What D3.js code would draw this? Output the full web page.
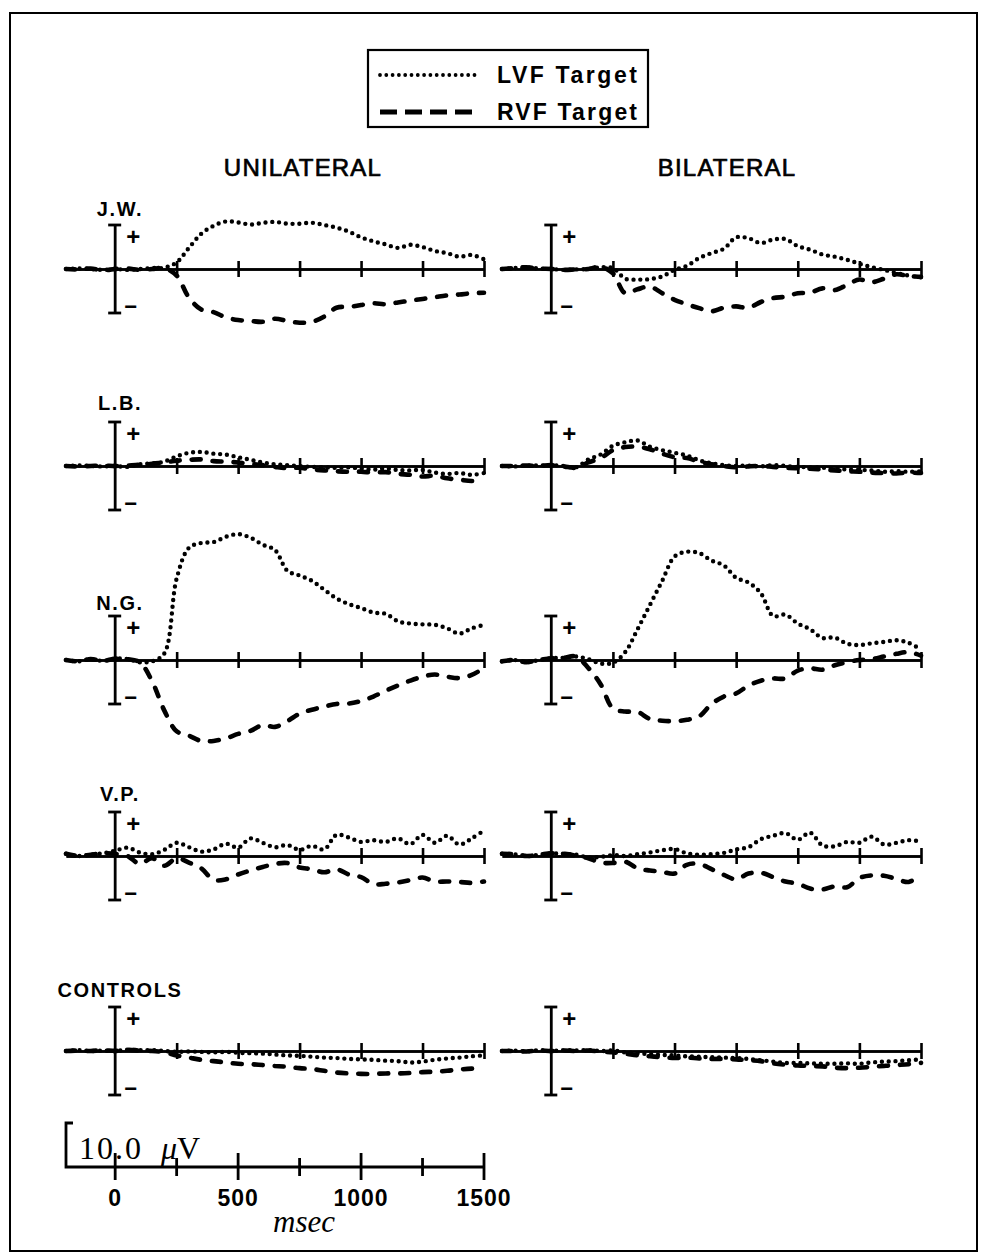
<!DOCTYPE html>
<html>
<head>
<meta charset="utf-8">
<script src="https://cdn.jsdelivr.net/npm/d3@7"></script>
<style>
  html, body { margin: 0; padding: 0; background: #fff; }
  svg { display: block; }
</style>
</head>
<body>
<div id="chart"></div>
<script>
// ---------------- DATA (µV) ----------------
const times = [-200,-150,-100,-50,0,50,100,150,200,250,300,350,400,450,500,550,600,650,700,750,800,850,900,950,1000,1050,1100,1150,1200,1250,1300,1350,1400,1450,1500];

const subjects = ["J.W.", "L.B.", "N.G.", "V.P.", "CONTROLS"];
const conditions = ["UNILATERAL", "BILATERAL"];
const seriesNames = ["LVF Target", "RVF Target"];
const axisTicks = [250, 500, 750, 1000, 1250, 1500];
const scaleMajorTicks = [0, 500, 1000, 1500];
const scaleMinorTicks = [250, 750, 1250];
const scaleBarLabel = "10.0";
const timeUnit = "msec";

const jwUniLVF = [0,0.1,0,-0.2,0,-0.2,0,0.2,0.3,1.5,4.8,8.0,9.8,10.8,10.6,10.1,10.5,10.7,10.3,10.3,10.5,10.0,9.4,8.5,7.2,6.3,5.6,4.8,5.5,5.0,4.1,3.6,2.8,3.2,2.2];
const jwUniRVF = [0,-0.1,0.1,-0.3,0,0.1,-0.2,0,0.2,-1.5,-6.5,-9.2,-9.8,-11.0,-11.6,-11.8,-12.0,-11.3,-11.8,-12.2,-12.0,-10.8,-8.8,-8.6,-8.2,-7.8,-8.0,-7.6,-7.2,-6.8,-6.4,-6.0,-5.8,-5.5,-5.4];
const jwBiLVF  = [0,0.2,0.4,0.1,0,-0.2,-0.1,0,0.4,0.2,-2.2,-2.4,-2.3,-1.7,-0.2,0.7,2.5,3.6,4.6,7.2,7.0,5.9,6.7,6.8,5.2,4.4,3.3,2.8,2.1,1.2,0.4,-0.2,-0.9,-1.5,-1.9];
const jwBiRVF  = [0,0.2,0.4,0.1,0,-0.2,-0.1,0,0.5,-1.0,-5.5,-4.6,-4.0,-5.5,-7.0,-8.0,-8.9,-9.6,-8.8,-8.5,-8.8,-7.5,-6.6,-6.3,-5.5,-5.4,-4.4,-4.8,-3.6,-2.4,-3.0,-2.2,-1.2,-1.6,-1.8];

const lbUniLVF = [0,0.1,0,-0.1,0,-0.2,0.4,0.6,1.0,2.2,3.0,3.2,2.8,2.6,2.0,1.4,0.8,0.4,0.2,0,-0.2,-0.3,-0.4,-0.3,-0.6,-0.8,-0.6,-0.9,-1.0,-0.9,-1.5,-1.8,-1.6,-2.0,-1.6];
const lbUniRVF = [0,-0.1,0,0.1,0,0.1,0.3,0.5,0.8,1.2,1.4,1.5,1.1,1.0,0.8,0.5,0.2,-0.2,-0.5,-0.4,-0.8,-1.0,-1.2,-1.3,-1.3,-1.5,-1.4,-1.8,-2.0,-2.4,-2.2,-2.8,-3.1,-3.4,-3.2];
const lbBiLVF  = [0,-0.1,0.1,0.1,0.2,0,-0.3,1.5,2.6,4.6,5.4,5.8,4.4,3.6,3.0,2.4,1.3,0.6,0.2,0,0.1,-0.1,0.2,0,-0.2,-0.3,-0.4,-0.5,-0.8,-0.9,-1.0,-1.3,-1.2,-1.3,-1.2];
const lbBiRVF  = [0,0,0.1,0,0.2,-0.1,-0.4,0.8,1.8,3.6,4.3,4.4,3.8,2.8,2.0,1.8,1.0,0.4,0,-0.3,-0.1,0,-0.2,-0.4,-0.5,-0.6,-0.8,-1.0,-1.2,-1.3,-1.5,-1.6,-1.7,-1.5,-1.6];

const ngUniLVF = [0,-0.3,0.2,-0.2,0.3,0.2,-0.5,-0.3,1.5,18.5,25.5,26.6,26.8,28.0,28.6,27.8,26.2,25.0,20.3,19.2,18.0,16.0,14.0,12.7,11.8,10.8,10.5,8.8,8.3,8.1,8.0,7.2,6.0,7.2,8.0];
const ngUniRVF = [0,-0.3,0.2,-0.2,0.3,0.2,-0.5,-4.8,-11.5,-16.2,-17.2,-18.4,-18.4,-17.8,-16.8,-16.1,-14.8,-15.2,-13.9,-12.2,-11.3,-10.6,-10.0,-9.9,-9.3,-8.3,-7.0,-5.8,-4.7,-3.8,-3.3,-3.8,-4.1,-3.4,-1.8];
const ngBiLVF  = [-0.3,0,-0.5,0,0.4,0.5,0.8,0.2,-0.8,-0.6,1.8,7.0,12.5,18.0,23.5,24.6,24.3,22.6,21.5,18.7,17.6,15.2,10.0,10.3,8.3,7.0,5.0,5.1,3.7,3.4,3.8,4.1,4.5,3.9,2.4];
const ngBiRVF  = [-0.3,0,-0.5,0,0.4,0.5,0.8,-1.8,-5.5,-11.0,-11.7,-11.8,-13.4,-13.8,-13.9,-13.6,-12.8,-10.0,-8.3,-7.6,-5.8,-4.7,-4.2,-4.2,-2.4,-1.9,-2.2,-1.2,-0.5,0,0.2,0.8,1.4,1.8,1.0];

const vpUniLVF = [0.5,0,0.3,0.6,1.2,1.9,0.8,0.4,1.4,3.0,2.0,1.0,1.5,2.8,1.9,4.0,3.0,2.0,2.5,1.4,2.3,1.5,4.8,4.2,3.2,3.6,3.2,4.0,2.7,4.8,3.0,4.6,2.6,4.0,5.8];
const vpUniRVF = [0.5,0,0.3,0.6,0.5,0,-1.8,-0.5,-2.2,-0.5,-1.5,-2.8,-5.4,-5.3,-4.2,-3.3,-2.5,-1.8,-1.6,-2.6,-3.0,-3.7,-3.0,-4.2,-4.8,-6.4,-6.3,-6.0,-5.5,-4.9,-5.8,-5.8,-5.9,-6.1,-5.8];
const vpBiLVF  = [0.5,0.4,0,0.3,0.6,0.5,0.3,-0.3,-0.2,0.2,0,0.4,0.8,1.3,1.6,0.6,0.3,0.4,0.7,1.5,2.0,3.8,4.6,5.2,3.7,5.3,2.4,2.2,3.2,3.0,4.4,2.6,3.0,3.6,3.3];
const vpBiRVF  = [0.5,0.4,0,0.3,0.6,0.5,0.1,-0.5,-1.5,-1.6,-1.3,-2.8,-3.3,-3.6,-4.0,-2.0,-1.8,-3.0,-4.3,-5.3,-4.0,-3.8,-4.8,-5.8,-6.3,-7.4,-7.6,-6.9,-7.1,-5.0,-4.4,-4.5,-5.2,-5.9,-4.2];

const ctUniLVF = [0,0.2,0,0.1,0,0.3,0.2,0.2,0,-0.2,-0.1,-0.2,-0.3,-0.2,-0.4,-0.5,-0.6,-0.8,-1.0,-1.1,-1.3,-1.5,-1.6,-1.8,-1.9,-2.0,-2.2,-2.3,-2.6,-2.4,-2.0,-1.7,-1.5,-1.2,-1.0];
const ctUniRVF = [0,0.1,0,0.2,0,0.3,0.1,0,-0.3,-1.0,-1.5,-2.0,-2.3,-2.6,-2.9,-3.0,-3.2,-3.4,-3.6,-3.9,-4.1,-4.5,-4.9,-5.1,-5.2,-5.2,-5.1,-5.1,-5.0,-4.8,-4.7,-4.5,-4.2,-4.0,-3.9];
const ctBiLVF  = [0,0.1,-0.1,0.2,0,0.2,0.1,0.2,0,0.1,-0.3,-0.5,-0.7,-0.9,-1.0,-1.2,-1.3,-1.4,-1.5,-1.6,-1.8,-2.1,-2.4,-2.7,-2.7,-2.8,-2.9,-2.9,-2.8,-2.9,-2.6,-2.4,-2.3,-2.1,-1.9];
const ctBiRVF  = [0,0,-0.1,0.1,0,0.1,0,0.1,-0.1,-0.3,-0.6,-1.0,-1.2,-1.4,-1.6,-1.5,-1.7,-1.8,-1.8,-1.9,-2.1,-2.3,-2.8,-3.1,-3.3,-3.4,-3.5,-3.8,-3.9,-3.8,-3.6,-3.4,-3.2,-3.0,-2.7];

// table: [subject][condition] -> [LVF, RVF]
const table = [
  [[jwUniLVF, jwUniRVF], [jwBiLVF, jwBiRVF]],
  [[lbUniLVF, lbUniRVF], [lbBiLVF, lbBiRVF]],
  [[ngUniLVF, ngUniRVF], [ngBiLVF, ngBiRVF]],
  [[vpUniLVF, vpUniRVF], [vpBiLVF, vpBiRVF]],
  [[ctUniLVF, ctUniRVF], [ctBiLVF, ctBiRVF]]
];

// ---------------- LAYOUT ----------------
const W = 982, H = 1254;
const colRange = [[66, 484], [502, 921]];
const baselines = [269, 466, 660, 856, 1051];
const labelBaselines = [216, 410, 610, 801, 997];
const halfBar = 44;            // 10 µV
const sansFont = "'Liberation Sans', Arial, Helvetica, sans-serif";
const serifFont = "'Liberation Serif', 'Times New Roman', serif";

const styles = [
  { width: 4.4, dash: "0 6.8", cap: "round" },
  { width: 4.6, dash: "9 12", cap: "round" }
];

const svg = d3.select("#chart").append("svg")
  .attr("width", W).attr("height", H)
  .attr("viewBox", `0 0 ${W} ${H}`);

svg.append("rect").attr("width", W).attr("height", H).attr("fill", "#fff");

// outer frame
svg.append("rect")
  .attr("x", 10).attr("y", 13).attr("width", 967).attr("height", 1238)
  .attr("fill", "none").attr("stroke", "#000").attr("stroke-width", 2);

// legend
const legend = svg.append("g");
legend.append("rect")
  .attr("x", 368).attr("y", 50).attr("width", 280).attr("height", 77)
  .attr("fill", "#fff").attr("stroke", "#000").attr("stroke-width", 2.2);
const legendY = [75, 112];
seriesNames.forEach((name, i) => {
  legend.append("line")
    .attr("x1", 380).attr("x2", 480).attr("y1", legendY[i]).attr("y2", legendY[i])
    .attr("stroke", "#000").attr("stroke-width", i === 0 ? 3.8 : 4.8)
    .attr("stroke-dasharray", i === 0 ? "0 6.3" : "17 8")
    .attr("stroke-linecap", i === 0 ? "round" : "butt");
  legend.append("text")
    .attr("x", 497).attr("y", legendY[i] + 8)
    .attr("font-family", sansFont).attr("font-size", 23).attr("font-weight", "bold")
    .attr("textLength", 140).attr("lengthAdjust", "spacing")
    .text(name);
});

// column titles
const titleX = [303, 727];
conditions.forEach((c, j) => {
  svg.append("text")
    .attr("x", titleX[j]).attr("y", 176)
    .attr("text-anchor", "middle")
    .attr("font-family", sansFont).attr("font-size", 24)
    .attr("letter-spacing", 1.2)
    .attr("stroke", "#000").attr("stroke-width", 0.7)
    .text(c);
});

const curve = d3.curveCatmullRom.alpha(0.5);

subjects.forEach((subj, i) => {
  const base = baselines[i];
  const y = d3.scaleLinear().domain([-10, 10]).range([base + halfBar, base - halfBar]);

  // subject label
  svg.append("text")
    .attr("x", 120).attr("y", labelBaselines[i])
    .attr("text-anchor", "middle")
    .attr("font-family", sansFont).attr("font-size", 20).attr("font-weight", "bold")
    .attr("letter-spacing", 1.6)
    .text(subj);

  conditions.forEach((c, j) => {
    const x = d3.scaleLinear().domain([times[0], times[times.length - 1]]).range(colRange[j]);
    const g = svg.append("g");

    // horizontal axis with ticks above & below
    const axB = d3.axisBottom(x).tickValues(axisTicks).tickSizeInner(8).tickSizeOuter(0).tickFormat("");
    const axT = d3.axisTop(x).tickValues(axisTicks).tickSizeInner(8).tickSizeOuter(0).tickFormat("");
    [axB, axT].forEach(ax => {
      const a = g.append("g").attr("transform", `translate(0,${base})`).call(ax);
      a.selectAll("path, line").attr("stroke", "#000").attr("stroke-width", 2.6);
    });

    // vertical calibration bar at t = 0
    const x0 = x(0);
    g.append("line").attr("x1", x0).attr("x2", x0)
      .attr("y1", y(10)).attr("y2", y(-10))
      .attr("stroke", "#000").attr("stroke-width", 2.8);
    [10, -10].forEach(v => {
      g.append("line").attr("x1", x0 - 7).attr("x2", x0 + 6)
        .attr("y1", y(v)).attr("y2", y(v))
        .attr("stroke", "#000").attr("stroke-width", 2.8);
    });
    g.append("text").attr("x", x0 + 11).attr("y", y(7.3) + 8)
      .attr("font-family", sansFont).attr("font-size", 24).attr("font-weight", "bold")
      .text("+");
    g.append("text").attr("x", x0 + 9).attr("y", y(-8.6) + 7)
      .attr("font-family", sansFont).attr("font-size", 22).attr("font-weight", "bold")
      .text("\u2212");

    // traces
    table[i][j].forEach((vals, k) => {
      const pts = times.map((t, n) => ({ t, v: vals[n] }));
      const line = d3.line().x(d => x(d.t)).y(d => y(d.v)).curve(curve);
      g.append("path")
        .attr("d", line(pts))
        .attr("fill", "none")
        .attr("stroke", "#000")
        .attr("stroke-width", styles[k].width)
        .attr("stroke-dasharray", styles[k].dash)
        .attr("stroke-linecap", styles[k].cap)
        .attr("stroke-linejoin", "round");
    });
  });
});

// ---------------- calibration / time scale at bottom ----------------
const xs = d3.scaleLinear().domain([times[0], times[times.length - 1]]).range(colRange[0]);
const sb = 1167;
const ys = d3.scaleLinear().domain([0, 10]).range([sb, sb - halfBar]);
const sg = svg.append("g");
sg.append("path")
  .attr("d", `M${xs(times[0]) + 7},${ys(10)} H${xs(times[0])} V${ys(0)} H${xs(1500)}`)
  .attr("fill", "none").attr("stroke", "#000").attr("stroke-width", 2.8);
sg.selectAll("line.major").data(scaleMajorTicks).join("line")
  .attr("x1", d => xs(d)).attr("x2", d => xs(d))
  .attr("y1", sb - 14).attr("y2", sb + 13)
  .attr("stroke", "#000").attr("stroke-width", 2.8);
sg.selectAll("line.minor").data(scaleMinorTicks).join("line")
  .attr("x1", d => xs(d)).attr("x2", d => xs(d))
  .attr("y1", sb - 9).attr("y2", sb + 9)
  .attr("stroke", "#000").attr("stroke-width", 2.8);
sg.selectAll("text.tl").data(scaleMajorTicks).join("text")
  .attr("x", d => xs(d)).attr("y", 1206)
  .attr("text-anchor", "middle")
  .attr("font-family", sansFont).attr("font-size", 23).attr("font-weight", "bold")
  .attr("letter-spacing", 1)
  .text(d => d);
sg.append("text").attr("x", 79).attr("y", 1159)
  .attr("font-family", serifFont).attr("font-size", 32)
  .attr("textLength", 62).attr("lengthAdjust", "spacing")
  .text(scaleBarLabel);
sg.append("text").attr("x", 161).attr("y", 1159)
  .attr("font-family", serifFont).attr("font-size", 32)
  .html(`<tspan font-style="italic">\u03BC</tspan>V`);
sg.append("text").attr("x", 304).attr("y", 1232)
  .attr("text-anchor", "middle")
  .attr("font-family", serifFont).attr("font-size", 31).attr("font-style", "italic")
  .text(timeUnit);
</script>
</body>
</html>
